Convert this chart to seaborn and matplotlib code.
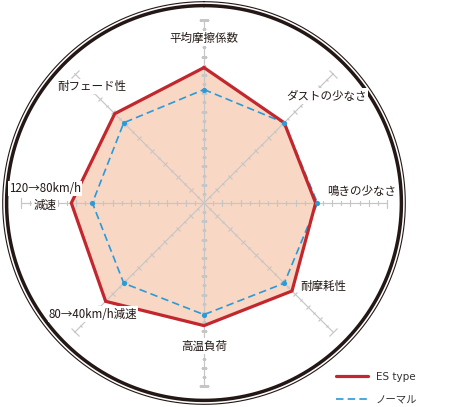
import numpy as np
import pandas as pd
import seaborn as sns
import matplotlib.pyplot as plt
from matplotlib.markers import MarkerStyle
from matplotlib.transforms import Affine2D, offset_copy

# axes clockwise from the top
categories = ['平均摩擦係数', 'ダストの少なさ', '鳴きの少なさ', '耐摩耗性',
              '高温負荷', '80→40km/h減速', '120→80km/h\n減速', '耐フェード性']
es_type = [7.4, 6.2, 6.1, 6.8, 6.7, 7.6, 7.25, 6.9]
normal = [6.2, 6.2, 6.2, 6.2, 6.1, 6.2, 6.1, 6.2]
series_names = ['ES type', 'ノーマル']
scale_max = 10

sns.set_theme(style='white')
plt.rcParams['font.family'] = ['Noto Sans CJK JP', 'DejaVu Sans']

fig = plt.figure(figsize=(4.5, 4.07), dpi=100)
# square polar axes, centre at (204, 203) px from top-left
ax = fig.add_axes([1 / 450, 1 / 407, 406 / 450, 406 / 407], projection='polar')
ax.set_theta_zero_location('N')
ax.set_theta_direction(-1)
unit = 18.3  # px per scale unit
ax.grid(False)
ax.spines['polar'].set_visible(False)
ax.patch.set_alpha(0)

n = len(categories)
theta = np.arange(n) * 2 * np.pi / n
theta_c = np.append(theta, 2 * np.pi)

# outer double ring
ring = np.linspace(0, 2 * np.pi, 400)
ink = '#231815'
ax.plot(ring, np.full_like(ring, 197.4 / unit), color=ink, lw=2.5, zorder=1)
ax.plot(ring, np.full_like(ring, 201.3 / unit), color=ink, lw=0.8, zorder=1)

# peach fill under the ES polygon
es_c = np.append(es_type, es_type[0])
nm_c = np.append(normal, normal[0])
ax.fill(theta_c, es_c, color='#f8d7c4', zorder=2, lw=0)

# spokes with ticks
grey = '#c6c6c6'
for t in theta:
    ax.plot([t, t], [0, scale_max], color=grey, lw=0.85, zorder=3)
    rot = 90 - np.degrees(t)
    for r in np.arange(0.5, scale_max + 0.01, 0.5):
        if r == scale_max:
            size = 7.5
        elif r % 1 == 0:
            size = 4.8
        else:
            size = 2.4
        m = MarkerStyle('|', transform=Affine2D().rotate_deg(rot))
        ax.plot([t], [r], marker=m, ms=size, mew=0.85, color=grey, zorder=3)

# series
blue = '#2b9ad8'
red = '#c1272d'
df_es = pd.DataFrame({'theta': theta_c, 'value': es_c})
df_nm = pd.DataFrame({'theta': theta_c, 'value': nm_c})
sns.lineplot(data=df_nm, x='theta', y='value', ax=ax, sort=False, estimator=None,
             color=blue, lw=1.2, zorder=4)
ax.lines[-1].set_dashes([4.5, 2.5])
sns.lineplot(data=df_es, x='theta', y='value', ax=ax, sort=False, estimator=None,
             color=red, lw=2.3, zorder=5)
ax.lines[-1].set_solid_joinstyle('miter')
sns.scatterplot(x=theta, y=normal, ax=ax, color=blue, s=14, linewidth=0, zorder=6)
ax.set_xlabel('')
ax.set_ylabel('')
ax.set_xticks([])
ax.set_yticks([])
ax.set_ylim(0, 203 / unit)

# axis labels (angle in degrees clockwise from top, radius in scale units)
label_pos = [(0, 9.0), (49, 8.9), (86, 8.66), (125, 7.96),
             (180, 7.81), (225, 8.58), (271, 8.69), (316, 8.85)]
for name, (a, r) in zip(categories, label_pos):
    lines = name.split('\n')
    shifts = [0] if len(lines) == 1 else [8.5, -3.5]
    for line, dy in zip(lines, shifts):
        tr = offset_copy(ax.transData, fig=fig, x=0, y=dy, units='points')
        ax.text(np.radians(a), r, line, transform=tr, ha='center', va='center',
                fontsize=8.3, color=ink, zorder=7,
                bbox=dict(facecolor='white', edgecolor='none', pad=0.8))

# legend
handles = [plt.Line2D([], [], color=red, lw=2.3),
           plt.Line2D([], [], color=blue, lw=1.2, dashes=[4.5, 2.5])]
fig.legend(handles, series_names, loc='upper left',
           bbox_to_anchor=(336 / 450, 1 - 371.5 / 407), frameon=False,
           handlelength=3.1, handletextpad=0.7, labelspacing=1.3,
           borderpad=0, borderaxespad=0, labelcolor='#333333',
           prop={'family': ['DejaVu Sans', 'Noto Sans CJK JP'], 'size': 7.5})

fig.savefig('out.png', dpi=100)
